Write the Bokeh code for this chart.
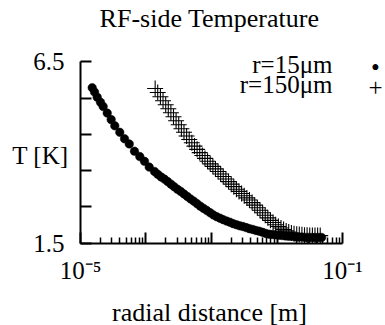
from bokeh.plotting import figure
from bokeh.models import Range1d, FixedTicker, Label
from bokeh.embed import file_html
from bokeh.resources import INLINE

# ---- data ----
r15_x = [1.51e-5, 1.64e-5, 1.80e-5, 2.02e-5, 2.22e-5, 2.56e-5, 2.94e-5, 3.34e-5,
         3.98e-5, 4.70e-5, 5.55e-5, 6.67e-5, 8.04e-5, 9.48e-5, 1.12e-4, 1.35e-4,
         1.51e-4, 1.70e-4, 1.91e-4, 2.14e-4, 2.40e-4, 2.69e-4, 3.02e-4, 3.39e-4,
         3.80e-4, 4.27e-4, 4.79e-4, 5.37e-4, 6.03e-4, 6.76e-4, 7.59e-4, 8.51e-4,
         9.55e-4, 1.07e-3, 1.20e-3, 1.35e-3, 1.51e-3, 1.70e-3, 1.91e-3, 2.14e-3,
         2.40e-3, 2.69e-3, 3.02e-3, 3.39e-3, 3.80e-3, 4.27e-3, 4.79e-3, 5.37e-3,
         6.03e-3, 6.76e-3, 7.59e-3, 8.51e-3, 9.55e-3, 1.07e-2, 1.20e-2, 1.35e-2,
         1.51e-2, 1.70e-2, 1.91e-2, 2.14e-2, 2.40e-2, 2.69e-2, 3.02e-2, 3.39e-2,
         3.80e-2, 4.27e-2, 4.79e-2]
r15_T = [5.79, 5.67, 5.53, 5.39, 5.27, 5.09, 4.91, 4.74,
         4.56, 4.38, 4.24, 4.04, 3.89, 3.76, 3.60, 3.48,
         3.40, 3.33, 3.27, 3.20, 3.13, 3.06, 2.99, 2.93,
         2.86, 2.79, 2.72, 2.66, 2.59, 2.52, 2.46, 2.40,
         2.34, 2.28, 2.23, 2.19, 2.15, 2.11, 2.08, 2.04,
         2.01, 1.98, 1.96, 1.93, 1.90, 1.88, 1.85, 1.83,
         1.80, 1.77, 1.75, 1.74, 1.73, 1.72, 1.71, 1.70,
         1.69, 1.69, 1.68, 1.67, 1.67, 1.66, 1.66, 1.66,
         1.66, 1.66, 1.66]

r150_x = [1.38e-4, 1.51e-4, 1.66e-4, 1.82e-4, 2.00e-4, 2.19e-4, 2.40e-4, 2.63e-4,
          2.88e-4, 3.16e-4, 3.47e-4, 3.80e-4, 4.17e-4, 4.57e-4, 5.01e-4, 5.50e-4,
          6.03e-4, 6.61e-4, 7.24e-4, 7.94e-4, 8.71e-4, 9.55e-4, 1.05e-3, 1.15e-3,
          1.26e-3, 1.38e-3, 1.51e-3, 1.66e-3, 1.82e-3, 2.00e-3, 2.19e-3, 2.40e-3,
          2.63e-3, 2.88e-3, 3.16e-3, 3.47e-3, 3.80e-3, 4.17e-3, 4.57e-3, 5.01e-3,
          5.50e-3, 6.03e-3, 6.61e-3, 7.24e-3, 7.94e-3, 8.71e-3, 9.55e-3, 1.05e-2,
          1.15e-2, 1.26e-2, 1.38e-2, 1.51e-2, 1.66e-2, 1.82e-2, 2.00e-2, 2.19e-2,
          2.40e-2, 2.63e-2, 2.88e-2, 3.16e-2, 3.47e-2, 3.80e-2, 4.17e-2, 4.57e-2]
r150_T = [5.77, 5.66, 5.54, 5.43, 5.32, 5.21, 5.10, 4.99,
          4.88, 4.77, 4.66, 4.56, 4.46, 4.36, 4.27, 4.18,
          4.09, 4.00, 3.92, 3.84, 3.76, 3.69, 3.62, 3.55,
          3.48, 3.41, 3.34, 3.27, 3.20, 3.13, 3.06, 2.99,
          2.93, 2.87, 2.81, 2.75, 2.69, 2.62, 2.55, 2.48,
          2.41, 2.34, 2.27, 2.20, 2.13, 2.07, 2.01, 1.96,
          1.92, 1.88, 1.84, 1.81, 1.78, 1.76, 1.75, 1.74,
          1.73, 1.72, 1.72, 1.71, 1.71, 1.71, 1.71, 1.71]

x_major = [1e-5, 1e-4, 1e-3, 1e-2, 1e-1]
x_minor = [m * d for d in [1e-5, 1e-4, 1e-3, 1e-2] for m in range(2, 10)]
x_labels = {1e-5: "10\u207b\u2075", 1e-4: "", 1e-3: "", 1e-2: "", 1e-1: "10\u207b\u00b9"}
y_major = [1.5, 2.5, 3.5, 4.5, 5.5, 6.5]
y_labels = {1.5: "1.5", 2.5: "", 3.5: "", 4.5: "", 5.5: "", 6.5: "6.5"}

title = "RF-side Temperature"
series_names = ["r=15\u03bcm", "r=150\u03bcm"]
x_title = "radial distance [m]"
y_title = "T [K]"

FONT = "Liberation Serif"
FS = "25px"

# The frame fills the whole canvas; the two axes are drawn at fixed data
# locations (bounded), and the titles and key are labels inside the frame.
p = figure(title=None, width=385, height=325, x_axis_type="log",
           x_range=Range1d(6.01e-7, 0.4533), y_range=Range1d(-0.771, 8.197),
           output_backend="svg", toolbar_location=None,
           min_border_left=0, min_border_right=0,
           min_border_top=0, min_border_bottom=0)
p.outline_line_color = None
p.grid.visible = False
p.background_fill_color = "white"
p.border_fill_color = "white"

xa = p.xaxis[0]
xa.ticker = FixedTicker(ticks=x_major, minor_ticks=x_minor)
xa.major_label_overrides = x_labels
xa.bounds = (1e-5, 1e-1)
xa.fixed_location = 1.5
ya = p.yaxis[0]
ya.ticker = FixedTicker(ticks=y_major, minor_ticks=[])
ya.major_label_overrides = y_labels
ya.bounds = (1.5, 6.5)
ya.fixed_location = 1e-5

for ax in (xa, ya):
    ax.axis_line_width = 2
    ax.axis_line_color = "black"
    ax.major_tick_in = 11
    ax.major_tick_out = 0
    ax.major_tick_line_width = 2
    ax.minor_tick_in = 6
    ax.minor_tick_out = 0
    ax.minor_tick_line_width = 1.5
    ax.major_label_text_font = FONT
    ax.major_label_text_font_size = FS
    ax.major_label_text_color = "black"
xa.major_label_standoff = 14
ya.major_label_standoff = 16

p.scatter(r150_x, r150_T, marker="cross", size=16, line_color="black",
          line_width=1.1, line_alpha=1.0)
p.scatter(r15_x, r15_T, marker="circle", size=8.5, fill_color="black",
          line_color="black", line_width=0.5)

def lab(x, y, text, align, size=FS):
    p.add_layout(Label(x=x, y=y, x_units="screen", y_units="screen", text=text,
                       text_align=align, text_baseline="middle",
                       text_font=FONT, text_font_size=size, text_color="black"))

lab(209, 307.4, title, "center", "26px")
lab(332, 260.9, series_names[0], "right")
lab(332, 241.4, series_names[1], "right")
lab(375, 258.3, "\u2022", "center")
lab(375, 238.3, "+", "center")
lab(68, 170.5, y_title, "right")
lab(209, 13.5, x_title, "center", "26px")

open("out.html", "w").write(file_html(p, INLINE))
